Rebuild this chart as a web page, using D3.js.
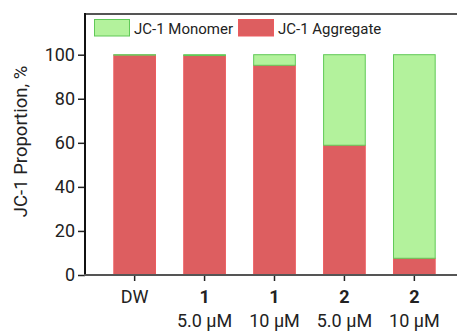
<!DOCTYPE html>
<html>
<head>
<meta charset="utf-8">
<script src="https://cdn.jsdelivr.net/npm/d3@7"></script>
<style>
  html, body { margin: 0; padding: 0; background: #fff; }
  svg { display: block; font-family: Roboto, "Noto Sans", sans-serif; }
</style>
</head>
<body>
<svg id="chart" width="457" height="334"></svg>
<script>
// values
const groups = ["DW", "1 5.0", "1 10", "2 5.0", "2 10"];
const compound = ["DW", "1", "1", "2", "2"];
const dose = ["", "5.0 μM", "10 μM", "5.0 μM", "10 μM"];
const aggregate = [99.8, 99.6, 95.2, 58.9, 7.6];
const yTicks = [0, 20, 40, 60, 80, 100];

const svg = d3.select("#chart");
const mLeft = 85, mTop = 13, mBottom = 275, mRight = 464;

const x = d3.scaleBand().domain(groups).range([mLeft, mRight]).paddingInner(0.39).paddingOuter(0.405);
const y = d3.scaleLinear().domain([0, 100]).range([mBottom, 54.7]);

const red = "#dd5e60", redLine = "#ec5b5e";
const green = "#b3f29c", greenLine = "#60c957";

// bars
const g = svg.append("g");
groups.forEach((k, i) => {
  g.append("rect")
    .attr("x", x(k) + 0.5).attr("width", x.bandwidth() - 1)
    .attr("y", y(aggregate[i])).attr("height", y(0) - y(aggregate[i]))
    .attr("fill", red).attr("stroke", redLine).attr("stroke-width", 1);
  g.append("rect")
    .attr("x", x(k) + 0.5).attr("width", x.bandwidth() - 1)
    .attr("y", y(100)).attr("height", y(aggregate[i]) - y(100))
    .attr("fill", green).attr("stroke", greenLine).attr("stroke-width", 1);
});

// frame top
svg.append("line").attr("x1", mLeft).attr("x2", 457).attr("y1", mTop + 1).attr("y2", mTop + 1)
  .attr("stroke", "#555").attr("stroke-width", 2);

// y axis
const ya = svg.append("g").attr("transform", `translate(${mLeft},0)`)
  .call(d3.axisLeft(y).tickValues(yTicks).tickSize(7).tickPadding(3));
ya.select(".domain").remove();
ya.selectAll(".tick line").attr("stroke", "#222").attr("stroke-width", 1.5);
ya.selectAll(".tick text").attr("font-size", 18).attr("fill", "#222").attr("font-family", "Roboto");
svg.append("line").attr("x1", mLeft).attr("x2", mLeft).attr("y1", mTop).attr("y2", mBottom + 1)
  .attr("stroke", "#111").attr("stroke-width", 2);

// x axis
const xa = svg.append("g").attr("transform", `translate(0,${mBottom})`)
  .call(d3.axisBottom(x).tickSize(6).tickFormat(""));
xa.select(".domain").remove();
xa.selectAll(".tick line").attr("stroke", "#222").attr("stroke-width", 1.5);
svg.append("line").attr("x1", mLeft - 1).attr("x2", 457).attr("y1", mBottom).attr("y2", mBottom)
  .attr("stroke", "#555").attr("stroke-width", 2);

groups.forEach((k, i) => {
  const cx = x(k) + x.bandwidth() / 2;
  svg.append("text").attr("x", cx).attr("y", 303).attr("text-anchor", "middle")
    .attr("font-size", 18).attr("fill", "#222")
    .attr("font-weight", i === 0 ? "normal" : "bold").text(compound[i]);
  if (dose[i]) svg.append("text").attr("x", cx).attr("y", 327).attr("text-anchor", "middle")
    .attr("font-size", 18).attr("fill", "#222").text(dose[i]);
});

// y label
svg.append("text").attr("transform", "translate(27,141.5) rotate(-90)")
  .attr("text-anchor", "middle").attr("font-size", 18.5).attr("fill", "#222")
  .text("JC-1 Proportion, %");

// legend
const legend = [
  { name: "JC-1 Monomer", fill: green, stroke: greenLine, x: 94.5 },
  { name: "JC-1 Aggregate", fill: red, stroke: redLine, x: 238.5 }
];
legend.forEach(d => {
  svg.append("rect").attr("x", d.x).attr("y", 19.5).attr("width", 35).attr("height", 16.5)
    .attr("fill", d.fill).attr("stroke", d.stroke);
  svg.append("text").attr("x", d.x + 39.5).attr("y", 33.5).attr("font-size", 15)
    .attr("fill", "#222").text(d.name);
});
</script>
</body>
</html>
